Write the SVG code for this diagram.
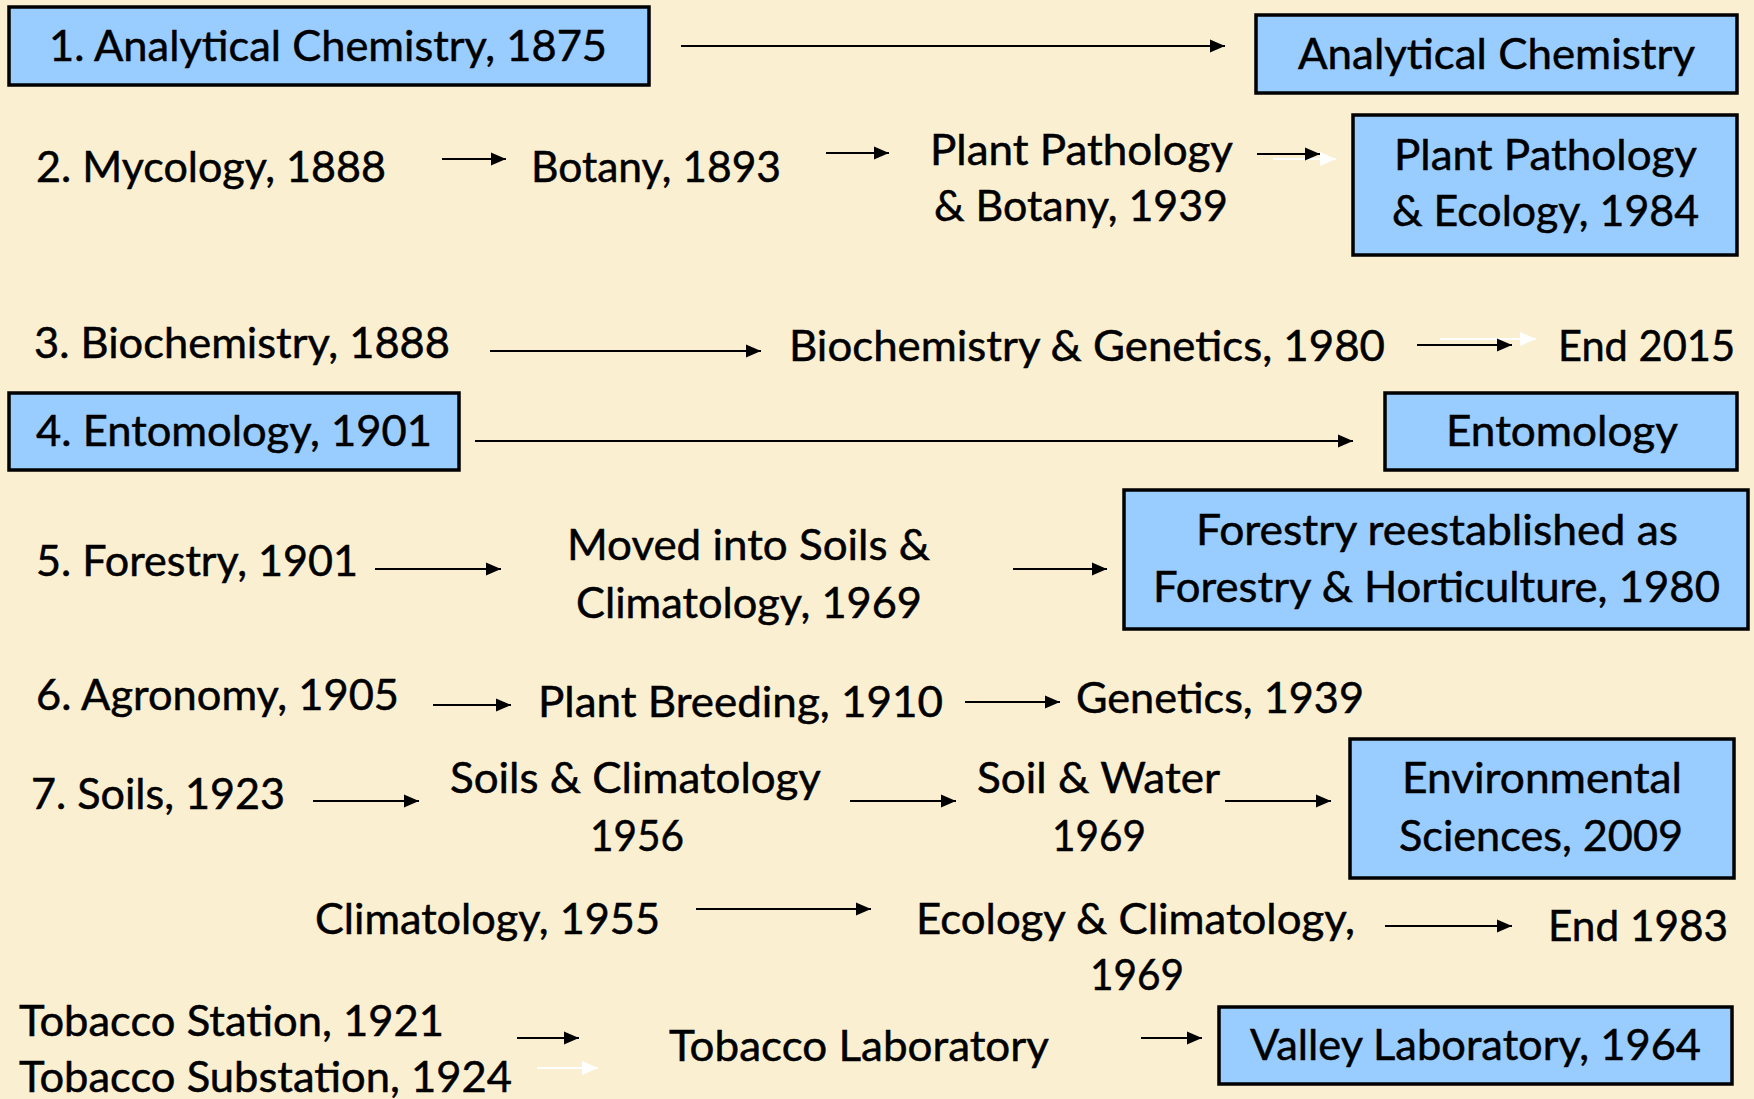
<svg xmlns="http://www.w3.org/2000/svg" width="1754" height="1099" viewBox="0 0 1754 1099">
<defs>
<style>
.t{font-family:Lato,"Open Sans","Liberation Sans",sans-serif;font-size:42px;fill:#000;stroke:#000;stroke-width:0.5}
.box{fill:#99CCFF;stroke:#000;stroke-width:3.5}
.c{stroke:#000;stroke-width:2.2;fill:none}
.w{stroke:#fff;stroke-width:2.2;fill:none}
</style>
<marker id="ah" markerUnits="userSpaceOnUse" markerWidth="16" markerHeight="14" refX="15" refY="7" orient="auto">
<path d="M0,0.5 L15,7 L0,13.5 z" fill="#000"/>
</marker>
<marker id="ahw" markerUnits="userSpaceOnUse" markerWidth="17" markerHeight="16" refX="16" refY="8" orient="auto">
<path d="M0,1 L16,8 L0,15 z" fill="#fff"/>
</marker>
</defs>
<rect width="1754" height="1099" fill="#FBEFD1"/>

<g id="connectors">
<line class="c" x1="681" y1="46" x2="1225" y2="46" marker-end="url(#ah)"/>
<line class="c" x1="442" y1="159" x2="506" y2="159" marker-end="url(#ah)"/>
<line class="c" x1="826" y1="153" x2="889" y2="153" marker-end="url(#ah)"/>
<line class="w" x1="1273" y1="159" x2="1336" y2="159" marker-end="url(#ahw)"/>
<line class="c" x1="1257" y1="154" x2="1320" y2="154" marker-end="url(#ah)"/>
<line class="c" x1="490" y1="351" x2="761" y2="351" marker-end="url(#ah)"/>
<line class="w" x1="1440" y1="339" x2="1536" y2="339" marker-end="url(#ahw)"/>
<line class="c" x1="1417" y1="345" x2="1512" y2="345" marker-end="url(#ah)"/>
<line class="c" x1="475" y1="441" x2="1353" y2="441" marker-end="url(#ah)"/>
<line class="c" x1="375" y1="569" x2="501" y2="569" marker-end="url(#ah)"/>
<line class="c" x1="1013" y1="569" x2="1107" y2="569" marker-end="url(#ah)"/>
<line class="c" x1="433" y1="705" x2="511" y2="705" marker-end="url(#ah)"/>
<line class="c" x1="965" y1="702" x2="1060" y2="702" marker-end="url(#ah)"/>
<line class="c" x1="313" y1="801" x2="419" y2="801" marker-end="url(#ah)"/>
<line class="c" x1="850" y1="801" x2="956" y2="801" marker-end="url(#ah)"/>
<line class="c" x1="1225" y1="801" x2="1331" y2="801" marker-end="url(#ah)"/>
<line class="c" x1="696" y1="909" x2="871" y2="909" marker-end="url(#ah)"/>
<line class="c" x1="1385" y1="926" x2="1512" y2="926" marker-end="url(#ah)"/>
<line class="c" x1="517" y1="1038" x2="579" y2="1038" marker-end="url(#ah)"/>
<line class="w" x1="537" y1="1068" x2="598" y2="1068" marker-end="url(#ahw)"/>
<line class="c" x1="1141" y1="1038" x2="1202" y2="1038" marker-end="url(#ah)"/>
</g>

<g id="n-analytical-1875">
<rect class="box" x="9" y="7" width="640" height="78"/>
<text class="t" x="49" y="61" textLength="558" lengthAdjust="spacingAndGlyphs">1. Analytical Chemistry, 1875</text>
</g>
<g id="n-analytical">
<rect class="box" x="1256" y="15" width="481" height="78"/>
<text class="t" x="1298" y="69" textLength="397" lengthAdjust="spacingAndGlyphs">Analytical Chemistry</text>
</g>

<g id="n-mycology">
<text class="t" x="36" y="182" textLength="350" lengthAdjust="spacingAndGlyphs">2. Mycology, 1888</text>
</g>
<g id="n-botany">
<text class="t" x="531" y="182" textLength="250" lengthAdjust="spacingAndGlyphs">Botany, 1893</text>
</g>
<g id="n-pp-botany">
<text class="t" x="930" y="165" textLength="303" lengthAdjust="spacingAndGlyphs">Plant Pathology</text>
<text class="t" x="934" y="221" textLength="294" lengthAdjust="spacingAndGlyphs">&amp; Botany, 1939</text>
</g>
<g id="n-pp-ecology">
<rect class="box" x="1353" y="115" width="384" height="140"/>
<text class="t" x="1394" y="170" textLength="303" lengthAdjust="spacingAndGlyphs">Plant Pathology</text>
<text class="t" x="1392" y="226" textLength="307" lengthAdjust="spacingAndGlyphs">&amp; Ecology, 1984</text>
</g>

<g id="n-biochem">
<text class="t" x="34" y="358" textLength="416" lengthAdjust="spacingAndGlyphs">3. Biochemistry, 1888</text>
</g>
<g id="n-biochem-gen">
<text class="t" x="789" y="361" textLength="596" lengthAdjust="spacingAndGlyphs">Biochemistry &amp; Genetics, 1980</text>
</g>
<g id="n-end2015">
<text class="t" x="1558" y="361" textLength="177" lengthAdjust="spacingAndGlyphs">End 2015</text>
</g>

<g id="n-entomology-1901">
<rect class="box" x="9" y="393" width="450" height="77"/>
<text class="t" x="36" y="446" textLength="396" lengthAdjust="spacingAndGlyphs">4. Entomology, 1901</text>
</g>
<g id="n-entomology">
<rect class="box" x="1385" y="393" width="352" height="77"/>
<text class="t" x="1446" y="446" textLength="232" lengthAdjust="spacingAndGlyphs">Entomology</text>
</g>

<g id="n-forestry">
<text class="t" x="36" y="576" textLength="322" lengthAdjust="spacingAndGlyphs">5. Forestry, 1901</text>
</g>
<g id="n-moved">
<text class="t" x="567" y="560" textLength="363" lengthAdjust="spacingAndGlyphs">Moved into Soils &amp;</text>
<text class="t" x="576" y="618" textLength="346" lengthAdjust="spacingAndGlyphs">Climatology, 1969</text>
</g>
<g id="n-forestry-hort">
<rect class="box" x="1124" y="490" width="624" height="139"/>
<text class="t" x="1196" y="545" textLength="482" lengthAdjust="spacingAndGlyphs">Forestry reestablished as</text>
<text class="t" x="1153" y="602" textLength="567" lengthAdjust="spacingAndGlyphs">Forestry &amp; Horticulture, 1980</text>
</g>

<g id="n-agronomy">
<text class="t" x="36" y="710" textLength="363" lengthAdjust="spacingAndGlyphs">6. Agronomy, 1905</text>
</g>
<g id="n-plant-breeding">
<text class="t" x="538" y="717" textLength="405" lengthAdjust="spacingAndGlyphs">Plant Breeding, 1910</text>
</g>
<g id="n-genetics">
<text class="t" x="1076" y="713" textLength="288" lengthAdjust="spacingAndGlyphs">Genetics, 1939</text>
</g>

<g id="n-soils">
<text class="t" x="31" y="809" textLength="254" lengthAdjust="spacingAndGlyphs">7. Soils, 1923</text>
</g>
<g id="n-soils-clim">
<text class="t" x="450" y="793" textLength="371" lengthAdjust="spacingAndGlyphs">Soils &amp; Climatology</text>
<text class="t" x="590" y="851" textLength="94" lengthAdjust="spacingAndGlyphs">1956</text>
</g>
<g id="n-soil-water">
<text class="t" x="977" y="793" textLength="243" lengthAdjust="spacingAndGlyphs">Soil &amp; Water</text>
<text class="t" x="1052" y="851" textLength="94" lengthAdjust="spacingAndGlyphs">1969</text>
</g>
<g id="n-env-sci">
<rect class="box" x="1350" y="739" width="384" height="139"/>
<text class="t" x="1402" y="793" textLength="280" lengthAdjust="spacingAndGlyphs">Environmental</text>
<text class="t" x="1399" y="851" textLength="284" lengthAdjust="spacingAndGlyphs">Sciences, 2009</text>
</g>

<g id="n-climatology">
<text class="t" x="315" y="934" textLength="345" lengthAdjust="spacingAndGlyphs">Climatology, 1955</text>
</g>
<g id="n-eco-clim">
<text class="t" x="916" y="934" textLength="439" lengthAdjust="spacingAndGlyphs">Ecology &amp; Climatology,</text>
<text class="t" x="1090" y="990" textLength="94" lengthAdjust="spacingAndGlyphs">1969</text>
</g>
<g id="n-end1983">
<text class="t" x="1548" y="941" textLength="180" lengthAdjust="spacingAndGlyphs">End 1983</text>
</g>

<g id="n-tobacco">
<text class="t" x="19" y="1036" textLength="425" lengthAdjust="spacingAndGlyphs">Tobacco Station, 1921</text>
<text class="t" x="19" y="1092" textLength="493" lengthAdjust="spacingAndGlyphs">Tobacco Substation, 1924</text>
</g>
<g id="n-tobacco-lab">
<text class="t" x="669" y="1061" textLength="380" lengthAdjust="spacingAndGlyphs">Tobacco Laboratory</text>
</g>
<g id="n-valley">
<rect class="box" x="1219" y="1007" width="513" height="77"/>
<text class="t" x="1250" y="1060" textLength="451" lengthAdjust="spacingAndGlyphs">Valley Laboratory, 1964</text>
</g>
</svg>
